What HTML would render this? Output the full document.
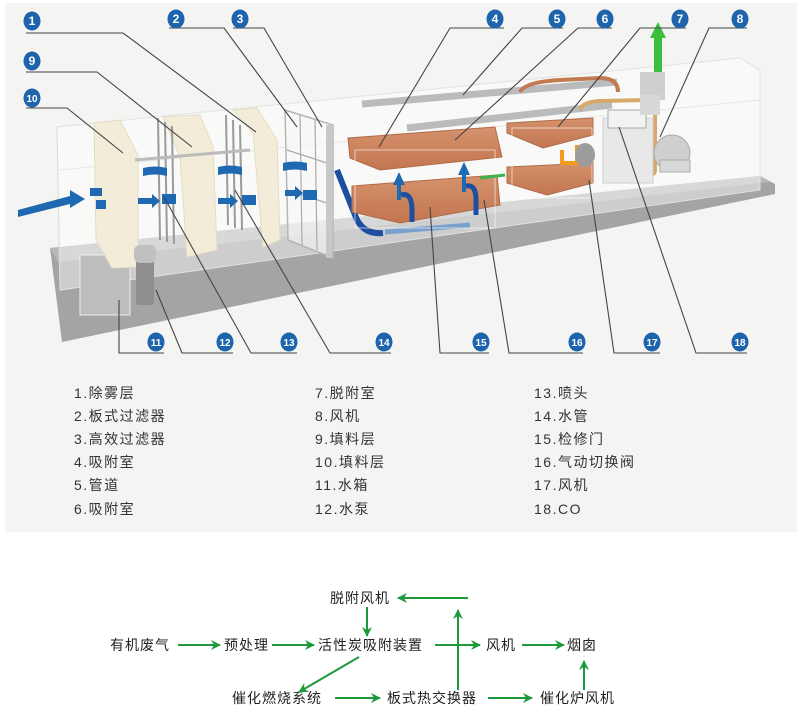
<!DOCTYPE html>
<html><head><meta charset="utf-8"><style>
html,body{margin:0;padding:0;background:#fff;width:800px;height:726px;overflow:hidden}
svg{display:block}
text{font-family:"Liberation Sans","Noto Sans CJK SC",sans-serif}
</style></head><body>
<svg width="800" height="726" viewBox="0 0 800 726" xmlns="http://www.w3.org/2000/svg">
<defs>
<marker id="ga" markerWidth="10" markerHeight="10" refX="9" refY="5" orient="auto" markerUnits="userSpaceOnUse"><path d="M0,0 L10,5 L0,10 L3,5 Z" fill="#1e9a3c"/></marker>
<linearGradient id="cu" x1="0" y1="0" x2="0" y2="1"><stop offset="0" stop-color="#d5926c"/><stop offset="1" stop-color="#c27650"/></linearGradient>
</defs>
<rect x="5" y="3" width="792" height="529" fill="#f4f4f2"/>
<!-- floor -->
<polygon points="50,248 760,176 775,184 775,194 62,342" fill="#a4a4a4"/>
<polygon points="50,248 760,176 770,182 58,262" fill="#b8b8b8"/>
<!-- enclosure -->
<polygon points="57,127 740,58 760,70 760,190 60,290" fill="#ffffff" fill-opacity="0.45" stroke="#e2e2e2"/>
<polyline points="57,127 60,290" stroke="#ddd" fill="none"/>
<line x1="60" y1="170" x2="760" y2="100" stroke="#e6e6e6"/>
<rect x="80" y="255" width="50" height="60" fill="#bdbdbd" stroke="#eee"/>
<!-- cream panels -->
<polygon points="94,123 120,120 138,155 138,267 112,268 96,240" fill="#f2ecd9" stroke="#e4dcc4"/>
<polygon points="163,117 200,115 213,147 217,250 187,257 180,157" fill="#f2ecd9" stroke="#e4dcc4"/>
<polygon points="233,110 257,108 277,140 280,240 263,247 253,133" fill="#f2ecd9" stroke="#e4dcc4"/>
<!-- filter grids -->
<g stroke="#9a9a9a" stroke-width="2">
<line x1="158" y1="118" x2="160" y2="240"/><line x1="165" y1="122" x2="167" y2="242"/><line x1="172" y1="126" x2="174" y2="244"/>
<line x1="226" y1="115" x2="228" y2="225"/><line x1="233" y1="120" x2="235" y2="228"/><line x1="240" y1="125" x2="242" y2="230"/>
</g>
<line x1="135" y1="160" x2="250" y2="150" stroke="#bbb" stroke-width="3"/>
<g stroke="#b5b5b5" stroke-width="1.5" fill="#f7f7f7" fill-opacity="0.6">
<polygon points="285,110 333,125 333,258 288,240"/>
</g>
<g stroke="#aaa" stroke-width="1.2"><line x1="300" y1="115" x2="302" y2="245"/><line x1="315" y1="120" x2="317" y2="250"/><line x1="287" y1="150" x2="333" y2="165"/><line x1="287" y1="190" x2="333" y2="205"/></g>
<rect x="326" y="125" width="6" height="133" fill="#c8c8c8"/>
<!-- pump -->
<rect x="136" y="247" width="18" height="58" rx="3" fill="#8e8e8e"/><rect x="134" y="245" width="22" height="18" rx="6" fill="#c0c0c0"/>
<!-- blue arrows -->
<g fill="#1f69b3">
<polygon points="18,210 70,196 70,190 85,199 70,208 70,204 18,217"/>
<rect x="90" y="188" width="12" height="8"/><rect x="96" y="200" width="10" height="9"/>
<path d="M143,168 q12,-3 24,0 v8 q-12,-3 -24,0z"/><path d="M138,198 h14 v-4 l8,7 -8,7 v-4 h-14z"/><rect x="162" y="194" width="14" height="10"/>
<path d="M218,167 q12,-3 24,0 v8 q-12,-3 -24,0z"/><path d="M218,198 h12 v-4 l8,7 -8,7 v-4 h-12z"/><rect x="242" y="195" width="14" height="10"/>
<path d="M283,163 q12,-3 24,0 v8 q-12,-3 -24,0z"/><path d="M285,190 h10 v-4 l8,7 -8,7 v-4 h-10z"/><rect x="303" y="190" width="14" height="10"/>
</g>
<path d="M337,170 L355,215 Q362,235 383,233" stroke="#1d4fa0" stroke-width="6" fill="none"/>
<path d="M385,232 L470,225" stroke="#7aa0cc" stroke-width="5" fill="none"/>
<!-- pipes -->
<line x1="362" y1="104" x2="617" y2="82" stroke="#b9bbbd" stroke-width="7"/>
<line x1="407" y1="128" x2="612" y2="105" stroke="#b9bbbd" stroke-width="7"/>
<path d="M520,92 Q525,82 560,80 L600,78 Q618,78 618,92" stroke="#c27a50" stroke-width="4" fill="none"/>
<path d="M580,110 Q582,102 600,101 L648,100 Q655,100 655,110 V170 Q655,175 648,175" stroke="#d8a86a" stroke-width="4" fill="none"/>
<!-- copper blocks -->
<polygon points="348,138 495,127 502,157 380,170 350,158" fill="url(#cu)" stroke="#b06a48"/>
<polygon points="352,186 497,175 500,205 400,223 352,212" fill="url(#cu)" stroke="#b06a48"/>
<polygon points="507,123 593,118 593,135 543,148 507,133" fill="url(#cu)" stroke="#b06a48"/>
<polygon points="507,167 593,163 593,183 547,195 507,183" fill="url(#cu)" stroke="#b06a48"/>
<g stroke="#ffffff" stroke-opacity="0.6" fill="none"><rect x="355" y="150" width="140" height="78"/><rect x="512" y="128" width="80" height="70"/></g>
<!-- blue up arrows -->
<g fill="#1f69b3"><polygon points="393,185 399,172 405,185 401,185 401,200 397,200 397,185"/><polygon points="458,175 464,162 470,175 466,175 466,192 462,192 462,175"/></g>
<path d="M401,195 Q412,192 412,210 V222" stroke="#1d4fa0" stroke-width="5" fill="none"/>
<path d="M466,186 Q476,184 476,200 V215" stroke="#1d4fa0" stroke-width="5" fill="none"/>
<line x1="480" y1="178" x2="505" y2="175" stroke="#3cb34a" stroke-width="3"/>
<!-- orange valve -->
<path d="M562,150 V163 H577 V145" stroke="#f39a1f" stroke-width="4" fill="none"/>
<!-- CO / chimney / fans -->
<rect x="603" y="118" width="50" height="65" fill="#e8e8e8" stroke="#cfcfcf"/>
<rect x="608" y="110" width="38" height="18" fill="#f2f2f2" stroke="#aaa"/>
<rect x="640" y="72" width="25" height="28" fill="#cfcfcf"/>
<rect x="640" y="95" width="20" height="20" fill="#d8d8d8"/>
<ellipse cx="672" cy="153" rx="18" ry="18" fill="#cfcfcf" stroke="#aaa"/>
<rect x="660" y="160" width="30" height="12" fill="#d8d8d8" stroke="#aaa"/>
<ellipse cx="585" cy="155" rx="10" ry="12" fill="#9c9c9c"/>
<polygon points="654,72 654,38 650,38 658,22 666,38 662,38 662,72" fill="#3cbf3c"/>
<!-- callout lines -->
<g stroke="#444" stroke-width="1.1" fill="none">
<polyline points="26,33 123,33 256,132"/>
<polyline points="169,28 224,28 297,127"/>
<polyline points="233,28 264,28 322,127"/>
<polyline points="504,28 450,28 379,147"/>
<polyline points="563,28 522,28 463,95"/>
<polyline points="612,28 578,28 455,140"/>
<polyline points="686,28 640,28 558,127"/>
<polyline points="747,28 709,28 660,137"/>
<polyline points="26,72 97,72 192,147"/>
<polyline points="26,108 67,108 123,153"/>
<polyline points="164,353 119,353 119,300"/>
<polyline points="233,353 182,353 156,290"/>
<polyline points="297,353 251,353 164,197"/>
<polyline points="391,353 330,353 235,190"/>
<polyline points="489,353 440,353 430,207"/>
<polyline points="583,353 509,353 484,200"/>
<polyline points="660,353 614,353 589,180"/>
<polyline points="747,353 696,353 619,127"/>
</g>
<g fill="#1d64ac">
<ellipse cx="32" cy="21" rx="8.5" ry="9.5"/><ellipse cx="176" cy="19" rx="8.5" ry="9.5"/><ellipse cx="240" cy="19" rx="8.5" ry="9.5"/>
<ellipse cx="495" cy="19" rx="8.5" ry="9.5"/><ellipse cx="557" cy="19" rx="8.5" ry="9.5"/><ellipse cx="605" cy="19" rx="8.5" ry="9.5"/>
<ellipse cx="680" cy="19" rx="8.5" ry="9.5"/><ellipse cx="740" cy="19" rx="8.5" ry="9.5"/><ellipse cx="32" cy="61" rx="8.5" ry="9.5"/>
<ellipse cx="32" cy="98" rx="8.5" ry="9.5"/>
<ellipse cx="156" cy="342" rx="8.5" ry="9.5"/><ellipse cx="225" cy="342" rx="8.5" ry="9.5"/><ellipse cx="289" cy="342" rx="8.5" ry="9.5"/>
<ellipse cx="384" cy="342" rx="8.5" ry="9.5"/><ellipse cx="481" cy="342" rx="8.5" ry="9.5"/><ellipse cx="577" cy="342" rx="8.5" ry="9.5"/>
<ellipse cx="652" cy="342" rx="8.5" ry="9.5"/><ellipse cx="740" cy="342" rx="8.5" ry="9.5"/>
</g>
<g fill="#fff" font-size="12" font-weight="bold" text-anchor="middle">
<text x="32" y="25">1</text><text x="176" y="23">2</text><text x="240" y="23">3</text><text x="495" y="23">4</text>
<text x="557" y="23">5</text><text x="605" y="23">6</text><text x="680" y="23">7</text><text x="740" y="23">8</text>
<text x="32" y="65">9</text><text x="32" y="102" font-size="10">10</text>
<g font-size="10"><text x="156" y="346">11</text><text x="225" y="346">12</text><text x="289" y="346">13</text><text x="384" y="346">14</text>
<text x="481" y="346">15</text><text x="577" y="346">16</text><text x="652" y="346">17</text><text x="740" y="346">18</text></g>
</g>
<!-- legend -->
<g font-size="14" fill="#333" letter-spacing="1.5">
<text x="74" y="398">1.除雾层</text><text x="74" y="421">2.板式过滤器</text><text x="74" y="444">3.高效过滤器</text>
<text x="74" y="467">4.吸附室</text><text x="74" y="490">5.管道</text><text x="74" y="514">6.吸附室</text>
<text x="315" y="398">7.脱附室</text><text x="315" y="421">8.风机</text><text x="315" y="444">9.填料层</text>
<text x="315" y="467">10.填料层</text><text x="315" y="490">11.水箱</text><text x="315" y="514">12.水泵</text>
<text x="534" y="398">13.喷头</text><text x="534" y="421">14.水管</text><text x="534" y="444">15.检修门</text>
<text x="534" y="467">16.气动切换阀</text><text x="534" y="490">17.风机</text><text x="534" y="514">18.CO</text>
</g>
<!-- flowchart -->
<g font-size="14" fill="#222" letter-spacing="1">
<text x="330" y="603">脱附风机</text>
<text x="110" y="650">有机废气</text><text x="224" y="650">预处理</text><text x="318" y="650">活性炭吸附装置</text>
<text x="486" y="650">风机</text><text x="567" y="650">烟囱</text>
<text x="232" y="703">催化燃烧系统</text><text x="387" y="703">板式热交换器</text><text x="540" y="703">催化炉风机</text>
</g>
<g stroke="#1e9a3c" stroke-width="2" fill="none" marker-end="url(#ga)">
<line x1="178" y1="645" x2="220" y2="645"/>
<line x1="272" y1="645" x2="314" y2="645"/>
<line x1="435" y1="645" x2="480" y2="645"/>
<line x1="522" y1="645" x2="564" y2="645"/>
<line x1="367" y1="607" x2="367" y2="636"/>
<line x1="359" y1="657" x2="299" y2="692"/>
<line x1="335" y1="698" x2="380" y2="698"/>
<line x1="488" y1="698" x2="532" y2="698"/>
<line x1="584" y1="690" x2="584" y2="661"/>
<line x1="458" y1="690" x2="458" y2="610"/>
<line x1="468" y1="598" x2="398" y2="598"/>
</g>
</svg>
</body></html>
